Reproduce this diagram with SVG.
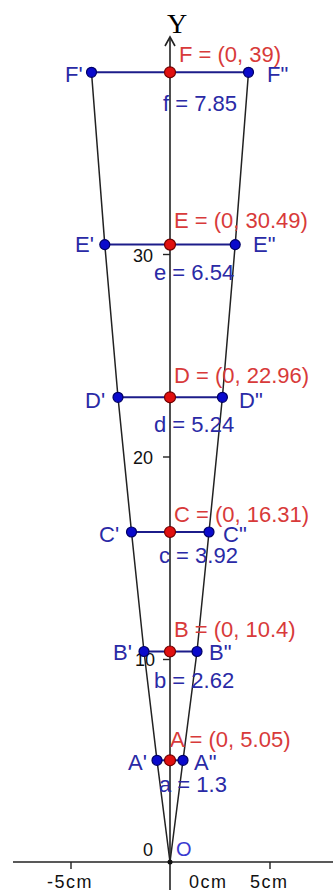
<svg xmlns="http://www.w3.org/2000/svg" width="333" height="890" viewBox="0 0 333 890">
<style>
.ax{stroke:#222;stroke-width:1.6;fill:none}
.tk{stroke:#222;stroke-width:1.4}
.gl{stroke:#222;stroke-width:1.5;fill:none}
.seg{stroke:#1c1c8a;stroke-width:2}
.bp{fill:#0a0acc;stroke:#000066;stroke-width:1.2}
.rp{fill:#e01010;stroke:#700000;stroke-width:1.2}
.bl{font-family:"Liberation Sans",Arial,sans-serif;font-size:22px;fill:#2a2aa6}
.rl{font-family:"Liberation Sans",Arial,sans-serif;font-size:22px;fill:#d83a3a}
.nl{font-family:"Liberation Sans",Arial,sans-serif;font-size:18px;fill:#111}
.cm{font-family:"Liberation Sans",Arial,sans-serif;font-size:18px;fill:#111;letter-spacing:1.5px}
</style>
<rect width="333" height="890" fill="#fff"/>
<g id="axes">
<line class="ax" x1="170" y1="37" x2="170" y2="890"/>
<polyline class="ax" points="165,46 170,37 175,46"/>
<line class="ax" x1="13" y1="862" x2="333" y2="862"/>
<line class="tk" x1="71" y1="862" x2="71" y2="869"/>
<line class="tk" x1="270" y1="862" x2="270" y2="869"/>
<line class="tk" x1="163" y1="254.5" x2="170" y2="254.5"/>
<line class="tk" x1="163" y1="457" x2="170" y2="457"/>
<line class="tk" x1="163" y1="659.5" x2="170" y2="659.5"/>
<text x="167" y="33" font-family="Liberation Serif,Times New Roman,serif" font-size="28" fill="#000">Y</text>
<text class="nl" x="133" y="262">30</text>
<text class="nl" x="133" y="464">20</text>
<text class="nl" x="135" y="666">10</text>
<text class="nl" x="143" y="856">0</text>
<text class="cm" x="47" y="888">-5cm</text>
<text class="cm" x="189" y="888">0cm</text>
<text class="cm" x="250" y="888">5cm</text>
</g>
<g id="connectors">
<polyline class="gl" points="91.5,72.3 104.8,244.6 118,397.3 131.5,532 144,651.5 157,760.3 170,862"/>
<polyline class="gl" points="248.5,72.3 235.2,244.6 222.4,397.3 209,532 197,651.5 183,760.3 170,862"/>
<line class="seg" x1="91.5" y1="72.3" x2="248.5" y2="72.3"/>
<line class="seg" x1="104.8" y1="244.6" x2="235.2" y2="244.6"/>
<line class="seg" x1="118" y1="397.3" x2="222.4" y2="397.3"/>
<line class="seg" x1="131.5" y1="532" x2="209" y2="532"/>
<line class="seg" x1="144" y1="651.5" x2="197" y2="651.5"/>
<line class="seg" x1="157" y1="760.3" x2="183" y2="760.3"/>
</g>
<g id="F">
<circle class="bp" cx="91.5" cy="72.3" r="5"/>
<circle class="bp" cx="248.5" cy="72.3" r="5"/>
<circle class="rp" cx="170" cy="72.3" r="5.5"/>
<text class="rl" x="179" y="62">F = (0, 39)</text>
<text class="bl" x="65" y="82">F'</text>
<text class="bl" x="267" y="82">F"</text>
<text class="bl" x="163" y="111">f = 7.85</text>
</g>
<g id="E">
<circle class="bp" cx="104.8" cy="244.6" r="5"/>
<circle class="bp" cx="235.2" cy="244.6" r="5"/>
<circle class="rp" cx="170" cy="244.6" r="5.5"/>
<text class="rl" x="174" y="228">E = (0, 30.49)</text>
<text class="bl" x="75" y="252">E'</text>
<text class="bl" x="253" y="252">E"</text>
<text class="bl" x="154" y="280">e = 6.54</text>
</g>
<g id="D">
<circle class="bp" cx="118" cy="397.3" r="5"/>
<circle class="bp" cx="222.4" cy="397.3" r="5"/>
<circle class="rp" cx="170" cy="397.3" r="5.5"/>
<text class="rl" x="174" y="383">D = (0, 22.96)</text>
<text class="bl" x="85" y="408">D'</text>
<text class="bl" x="239" y="408">D"</text>
<text class="bl" x="154" y="432">d = 5.24</text>
</g>
<g id="C">
<circle class="bp" cx="131.5" cy="532" r="5"/>
<circle class="bp" cx="209" cy="532" r="5"/>
<circle class="rp" cx="170" cy="532" r="5.5"/>
<text class="rl" x="174" y="522">C = (0, 16.31)</text>
<text class="bl" x="99" y="542">C'</text>
<text class="bl" x="223" y="542">C"</text>
<text class="bl" x="159" y="563">c = 3.92</text>
</g>
<g id="B">
<circle class="bp" cx="144" cy="651.5" r="5"/>
<circle class="bp" cx="197" cy="651.5" r="5"/>
<circle class="rp" cx="170" cy="651.5" r="5.5"/>
<text class="rl" x="174" y="637">B = (0, 10.4)</text>
<text class="bl" x="113" y="660">B'</text>
<text class="bl" x="209" y="660">B"</text>
<text class="bl" x="154" y="688">b = 2.62</text>
</g>
<g id="A">
<circle class="bp" cx="157" cy="760.3" r="5"/>
<circle class="bp" cx="183" cy="760.3" r="5"/>
<circle class="rp" cx="170" cy="760.3" r="5.5"/>
<text class="rl" x="170" y="747">A = (0, 5.05)</text>
<text class="bl" x="128" y="770">A'</text>
<text class="bl" x="194" y="770">A"</text>
<text class="bl" x="159" y="792">a = 1.3</text>
</g>
<g id="O">
<circle cx="170" cy="862" r="2.5" fill="#111"/>
<text x="176" y="856" font-family="Liberation Sans,Arial,sans-serif" font-size="20" fill="#3a3ad0">O</text>
</g>
</svg>
